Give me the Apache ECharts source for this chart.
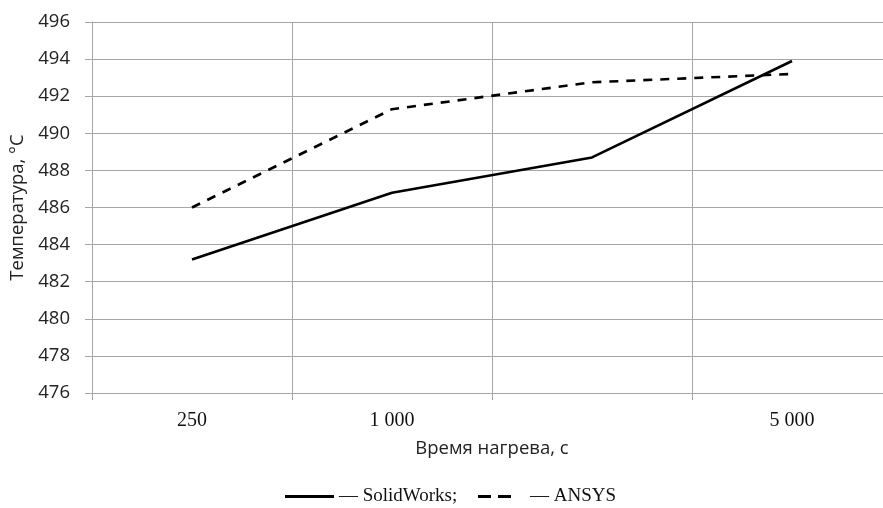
<!DOCTYPE html>
<html><head><meta charset="utf-8">
<script src="https://cdn.jsdelivr.net/npm/echarts@6/dist/echarts.min.js"></script>
<style>html,body{margin:0;padding:0;background:#fff;overflow:hidden;width:883px;height:508px}#c{width:892px;height:508px}</style>
</head><body><div id="c"></div>
<script>
const categories = ['250', '1 000', '', '5 000'];
const solidWorks = [483.2, 486.8, 488.7, 493.9];
const ansys = [486.0, 491.3, 492.75, 493.2];
const yTicks = {min: 476, max: 496, interval: 2};
const seriesNames = ['— SolidWorks;', '— ANSYS'];

const chart = echarts.init(document.getElementById('c'), null, {renderer: 'canvas'});
const grey = '#a6a6a6';
chart.setOption({
  animation: false,
  backgroundColor: '#fff',
  grid: {left: 92, top: 22, right: 0, bottom: 115},
  xAxis: {
    type: 'category', data: categories, boundaryGap: true,
    name: 'Время нагрева, с', nameLocation: 'middle', nameGap: 46,
    nameTextStyle: {fontFamily: 'Open Sans', fontSize: 18.5, color: '#222'},
    axisLine: {lineStyle: {color: grey, width: 1}},
    axisTick: {show: true, length: 7, lineStyle: {color: grey}},
    axisLabel: {fontFamily: 'Liberation Serif', fontSize: 20, color: '#111', margin: 18},
    splitLine: {show: true, lineStyle: {color: grey, width: 1}}
  },
  yAxis: {
    type: 'value', min: yTicks.min, max: yTicks.max, interval: yTicks.interval,
    name: 'Температура, °С', nameLocation: 'middle', nameGap: 64, nameRotate: 90,
    nameTextStyle: {fontFamily: 'Open Sans', fontSize: 18.5, color: '#222'},
    axisLine: {show: true, lineStyle: {color: grey, width: 1}},
    axisTick: {show: true, length: 7, lineStyle: {color: grey}},
    axisLabel: {fontFamily: 'Open Sans', fontSize: 18.5, color: '#222', margin: 22},
    splitLine: {show: true, lineStyle: {color: grey, width: 1}}
  },
  legend: [
    {left: 280, top: 482, itemWidth: 49, itemHeight: 3, icon: 'rect',
     itemStyle: {color: '#000'},
     textStyle: {fontFamily: 'Liberation Serif', fontSize: 19, color: '#111'},
     data: [seriesNames[0]]},
    {left: 473, top: 482, itemWidth: 33, itemHeight: 3,
     icon: 'path://M0,0H13V3H0Z M20,0H33V3H20Z',
     itemStyle: {color: '#000'},
     textStyle: {fontFamily: 'Liberation Serif', fontSize: 19, color: '#111', padding: [0, 0, 0, 14]},
     data: [seriesNames[1]]}
  ],
  series: [
    {name: seriesNames[0], type: 'line', data: solidWorks, symbol: 'none',
     lineStyle: {color: '#000', width: 2.6, type: 'solid'}, itemStyle: {color: '#000'}},
    {name: seriesNames[1], type: 'line', data: ansys, symbol: 'none',
     lineStyle: {color: '#000', width: 2.6, type: [9, 8]}, itemStyle: {color: '#000'}}
  ]
});
</script></body></html>
